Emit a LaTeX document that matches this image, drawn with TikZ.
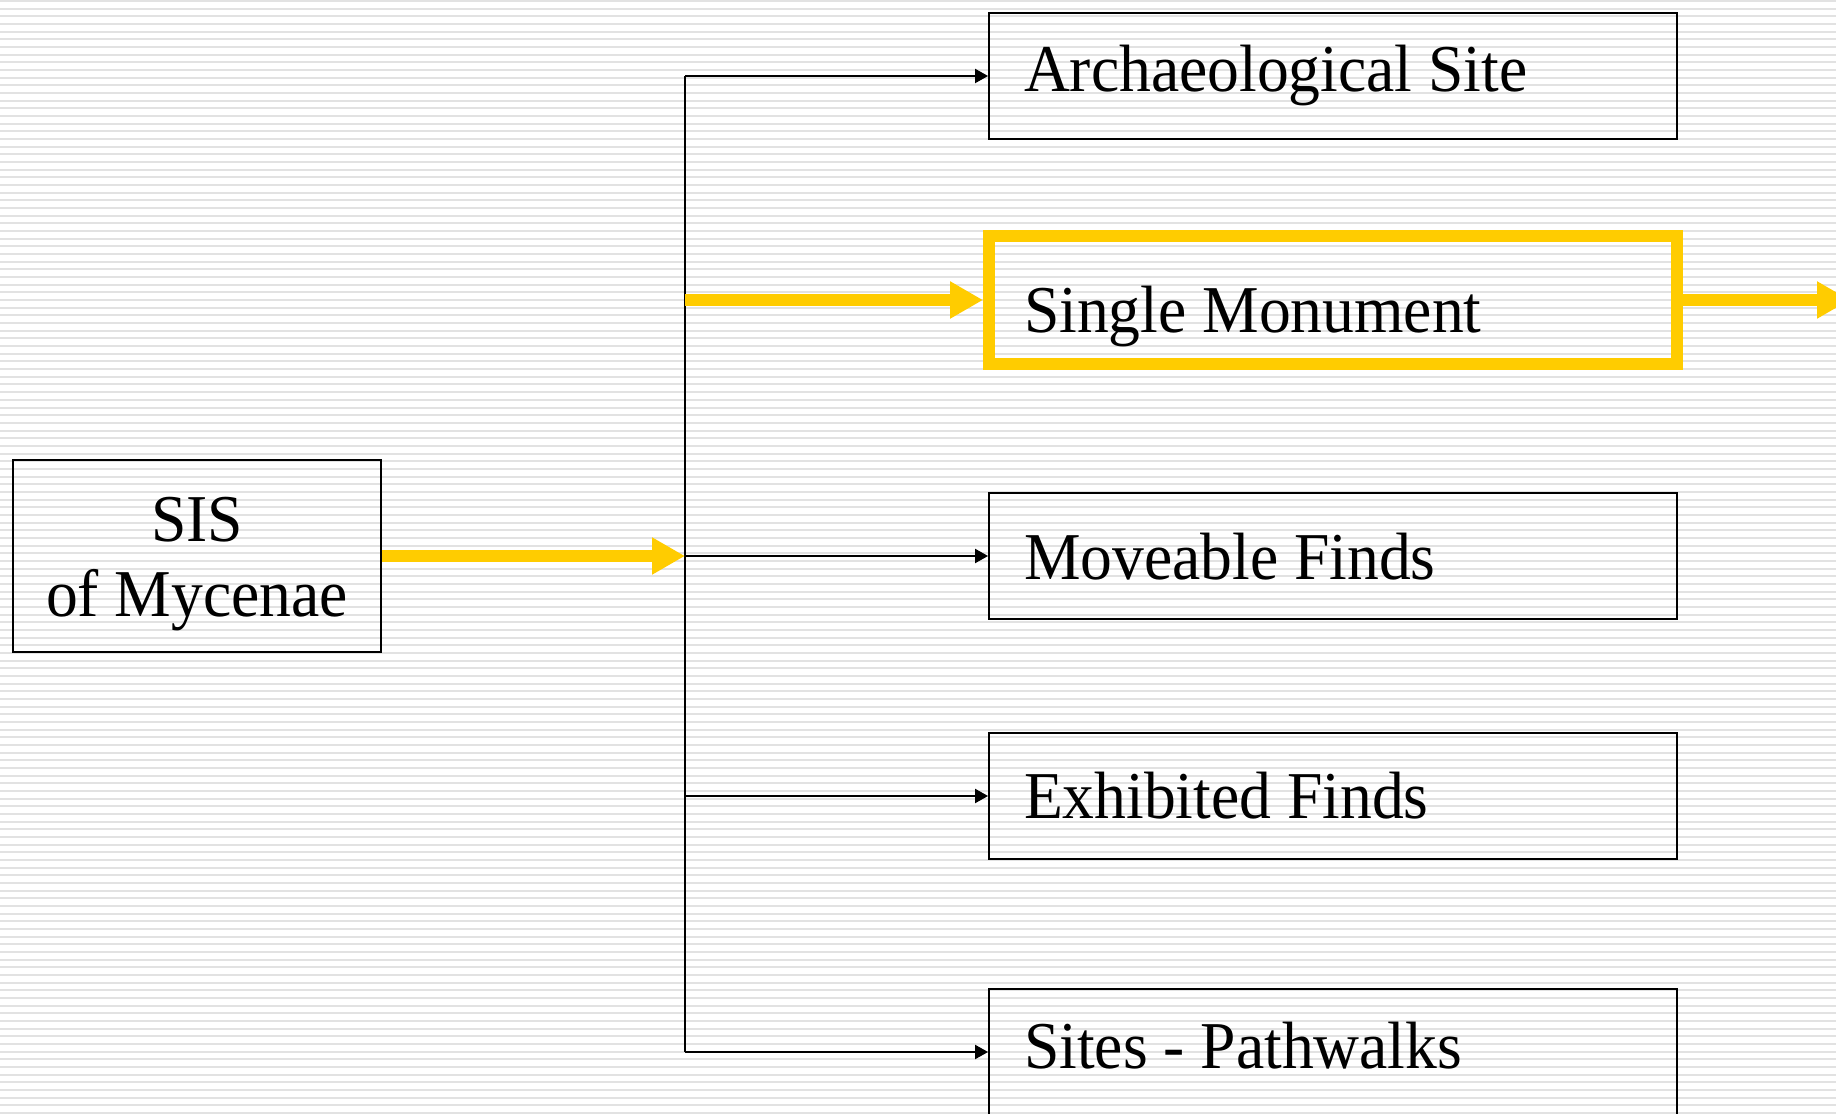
\documentclass[tikz,border=0pt]{standalone}
\usepackage{fontspec}
\setmainfont{Liberation Serif}[FakeStretch=0.95]
\usetikzlibrary{arrows.meta}
\definecolor{monument}{HTML}{FFCC00}
\definecolor{stripe}{HTML}{E2E2E2}

\begin{document}
\begin{tikzpicture}[x=0.02cm, y=-0.02cm,
    every node/.style={font=\fontsize{38.1}{42.7}\selectfont},
    item/.style={draw, line width=0.04cm, minimum width=13.76cm, minimum height=2.54cm,
      text width=12.36cm, inner xsep=0.7cm, inner ysep=0pt, align=flush left,
      text height=#1, text depth=0.29cm},
    item/.default=0.93cm,
    branch/.style={line width=0.04cm, -{Triangle[length=0.26cm, width=0.28cm]}},
    yellowarrow/.style={monument, line width=0.25cm, -{Triangle[length=0.66cm, width=0.7cm]}}]
        \clip (0,0) rectangle (1836,1114);
        \fill[white] (0,0) rectangle (1836,1114);
        \foreach \i in {0,...,145}
            \fill[stripe] (0,\i*7.67) rectangle ++(1836,2);
        \node[draw, line width=0.04cm, minimum width=7.36cm, minimum height=3.84cm, align=flush center,
              inner sep=0pt, text height=2.73cm, text depth=0.29cm] (sis) at (197,556) {SIS\\of Mycenae};
        \node[item] (arch) at (1333,76) {Archaeological Site};
        \node[item=1.61cm, draw=monument, line width=0.24cm, minimum height=2.56cm] (single) at (1333,300) {Single Monument};
        \node[item=1.25cm] (moveable) at (1333,556) {Moveable Finds};
        \node[item=1.21cm] (exhibited) at (1333,796) {Exhibited Finds};
        \node[item] (sites) at (1333,1052) {Sites - Pathwalks};
        \coordinate (fork) at (685,556);
        \coordinate (onward) at (1850,300);
        \draw[line width=0.04cm] (fork |- arch.west) -- (fork |- sites.west);
        \draw[branch] (fork |- arch.west) -- (arch.west);
        \draw[branch] (fork) -- (moveable.west);
        \draw[branch] (fork |- exhibited.west) -- (exhibited.west);
        \draw[branch] (fork |- sites.west) -- (sites.west);
        \draw[yellowarrow] (sis.east) -- (fork);
        \draw[yellowarrow] (fork |- single.west) -- (single.west);
        \draw[yellowarrow] (single.east) -- (onward);
\end{tikzpicture}
\end{document}
